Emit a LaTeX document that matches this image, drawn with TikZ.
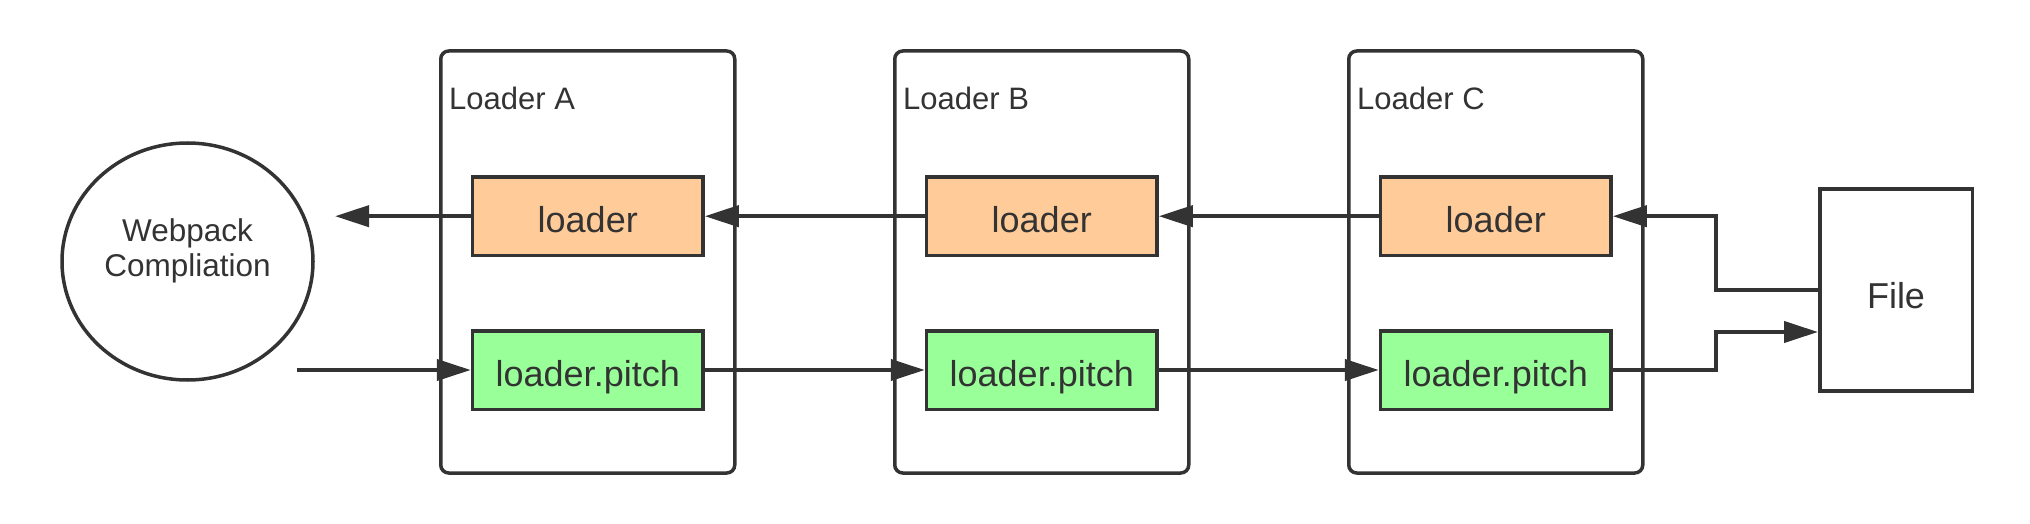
\documentclass[tikz,border=0pt]{standalone}
\usepackage{fontspec}
\setmainfont{Liberation Sans}
\usetikzlibrary{arrows.meta,shapes.geometric,calc}
\definecolor{ink}{HTML}{333333}
\definecolor{peach}{HTML}{FFCC99}
\definecolor{mint}{HTML}{99FF99}
\begin{document}
\begin{tikzpicture}[x=1pt,y=-1pt,
  container/.style={draw=ink,line width=3.5pt,rounded corners=8pt,minimum width=294pt,minimum height=422pt,inner sep=0pt},
  ttl/.style={text=ink,font=\fontsize{31}{36}\selectfont,anchor=base west,inner sep=0pt},
  boxbase/.style={draw=ink,line width=3.5pt,minimum width=230.5pt,minimum height=78.5pt,inner sep=0pt,text=ink,font=\fontsize{36}{40}\selectfont,text height=32pt,text depth=0pt},
  ldr/.style={boxbase,fill=peach},
  pitchbox/.style={boxbase,fill=mint},
  txt/.style={text=ink,font=\fontsize{31.5}{36}\selectfont,inner sep=0pt,anchor=base},
  arr/.style={draw=ink,line width=4pt,-{Triangle[length=34pt,width=21pt]}}
]
\useasboundingbox (0,0) rectangle (2030,524);
% containers
\node[container] (ca) at (587.75,262) {};
\node[container] (cb) at (1041.75,262) {};
\node[container] (cc) at (1495.75,262) {};
\node[ttl] (ta) at (449,110) {Loader A};
\node[ttl] (tb) at (903,110) {Loader B};
\node[ttl] (tc) at (1357,110) {Loader C};
% webpack ellipse
\node[ellipse,draw=ink,line width=3.5pt,minimum width=251pt,minimum height=237pt,inner sep=0pt] (web) at (187.5,261.5) {};
\node[txt] (w1) at (187.5,241) {Webpack};
\node[txt] (w2) at (187.5,276.5) {Compliation};
% file
\node[draw=ink,line width=3.5pt,minimum width=152.5pt,minimum height=202pt,inner sep=0pt,text=ink,font=\fontsize{36}{40}\selectfont,text height=36pt,text depth=0pt] (file) at (1896,290) {File};
% inner boxes
\node[ldr] (oa) at (587.75,216.2) {loader};
\node[ldr] (ob) at (1041.75,216.2) {loader};
\node[ldr] (oc) at (1495.75,216.2) {loader};
\node[pitchbox] (ga) at (587.75,370) {loader.pitch};
\node[pitchbox] (gb) at (1041.75,370) {loader.pitch};
\node[pitchbox] (gc) at (1495.75,370) {loader.pitch};
% connectors
\coordinate (leftend) at (335,216.2);
\coordinate (start) at (297,370);
\draw[arr] (oa.west) -- (leftend);
\draw[arr] (ob.west) -- (oa.east);
\draw[arr] (oc.west) -- (ob.east);
\draw[arr] (file.west) -- ++(-102.5,0) |- (oc.east);
\draw[arr] (start) -- (ga.west);
\draw[arr] (ga.east) -- (gb.west);
\draw[arr] (gb.east) -- (gc.west);
\draw[arr] (gc.east) -- ++(103,0) |- ($(file.west)+(0,42)$);
\end{tikzpicture}
\end{document}
